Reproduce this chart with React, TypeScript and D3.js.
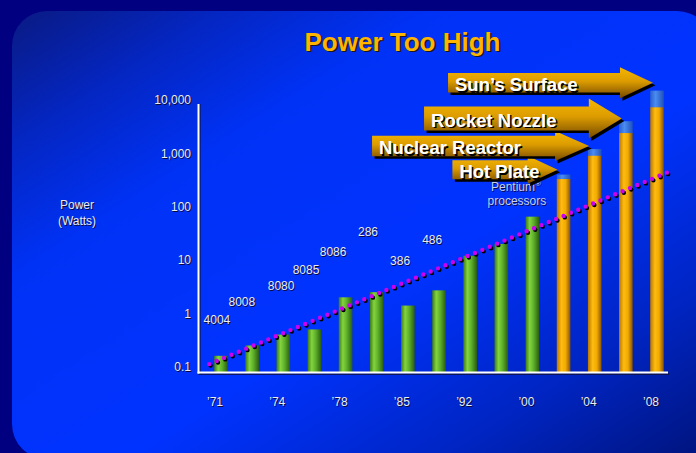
import React from "react";
import * as d3 from "d3";

const W = 696;
const H = 453;

// ---- data ----
const barSlots = ["71", "72", "74", "76", "78", "82", "85", "89", "92", "96", "00", "02", "04", "06", "08"];
const greenValues = [0.16, 0.25, 0.4, 0.5, 2, 2.5, 1.4, 2.7, 12, 20, 65];
const orangeValues = [330, 900, 2400, 7300];
const capValues = [400, 1200, 4000, 15000];

const xTickLabels = ["’71", "’74", "’78", "’85", "’92", "’00", "’04", "’08"];
const xTickSlots = ["71", "74", "78", "85", "92", "00", "04", "08"];

const yTickValues = [0.1, 1, 10, 100, 1000, 10000];
const yTickLabels = ["0.1", "1", "10", "100", "1,000", "10,000"];

const chipNames = ["4004", "8008", "8080", "8085", "8086", "286", "386", "486"];
const chipSlots = [-0.13, 0.67, 1.93, 2.73, 3.6, 4.72, 5.75, 6.78];
const chipLevels = [0.75, 1.63, 3.3, 6.5, 14.3, 34, 9.7, 23.7];

const pentiumSlot = 9.47;
const pentiumLevel = 237;

const trendSlots = [-0.376, 14.32];
const trendValues = [0.112, 435];

const arrowNames = ["Hot Plate", "Nuclear Reactor", "Rocket Nozzle", "Sun’s Surface"];
const arrowFrom = [7.43, 4.85, 6.52, 7.29];
const arrowTo = [10.81, 11.82, 12.87, 13.87];
const arrowLevels = [490, 1370, 4500, 21000];

// arrow shape styles (body height, head height, head length)
const arrowStyle = [
  { bodyH: 19, headH: 28, headL: 30 },
  { bodyH: 20.5, headH: 30, headL: 34 },
  { bodyH: 24, headH: 40, headL: 33 },
  { bodyH: 19.5, headH: 31, headL: 33 },
];

const FONT = "'Liberation Sans', Arial, Helvetica, sans-serif";

export default function App() {
  const y = d3.scaleLog().domain([0.1, 10000]).range([366.7, 100]);
  const x = d3
    .scaleBand<string>()
    .domain(barSlots)
    .range([205.43, 672.57])
    .paddingInner(0.563)
    .paddingOuter(0.2815);
  const bw = x.bandwidth();
  const cx = (s: string) => (x(s) as number) + bw / 2;
  const slot = d3.scaleLinear().domain([0, barSlots.length - 1]).range([cx(barSlots[0]), cx(barSlots[barSlots.length - 1])]);

  const baseY = 372.5;
  const axisX = 198.5;
  const axisTop = 104;
  const axisRight = 668;

  const trendLine = d3
    .line<number>()
    .x((_, i) => slot(trendSlots[i]))
    .y((d) => y(d));
  const trendD = trendLine(trendValues) || "";

  const arrowPath = (i: number) => {
    const s = arrowStyle[i];
    const x0 = slot(arrowFrom[i]);
    const tx = slot(arrowTo[i]);
    const ty = y(arrowLevels[i]);
    const hb = tx - s.headL;
    return `M${x0},${ty - s.bodyH / 2}L${hb},${ty - s.bodyH / 2}L${hb},${ty - s.headH / 2}L${tx},${ty}L${hb},${ty + s.headH / 2}L${hb},${ty + s.bodyH / 2}L${x0},${ty + s.bodyH / 2}Z`;
  };

  const shadowText = (
    key: string,
    tx: number,
    ty: number,
    text: React.ReactNode,
    opts: { size: number; anchor?: string; weight?: string; fill?: string; shadow?: string; off?: number }
  ) => (
    <g key={key} fontFamily={FONT} fontSize={opts.size} fontWeight={opts.weight || "normal"} textAnchor={opts.anchor || "middle"}>
      <text x={tx + (opts.off ?? 1)} y={ty + (opts.off ?? 1)} fill={opts.shadow || "#0a0a38"}>
        {text}
      </text>
      <text x={tx} y={ty} fill={opts.fill || "#ececf2"}>
        {text}
      </text>
    </g>
  );

  return (
    <svg
      width={W}
      height={H}
      viewBox={`0 0 ${W} ${H}`}
      style={{ position: "absolute", left: 0, top: 0, display: "block" }}
    >
      <defs>
        <linearGradient id="bg" x1="0" y1="0" x2="1" y2="1">
          <stop offset="0" stopColor="#0a1a82" />
          <stop offset="0.15" stopColor="#0426c2" />
          <stop offset="0.3" stopColor="#0032f6" />
          <stop offset="0.58" stopColor="#0033ff" />
          <stop offset="0.8" stopColor="#0025c4" />
          <stop offset="1" stopColor="#00137a" />
        </linearGradient>
        <linearGradient id="green" x1="0" y1="0" x2="1" y2="0">
          <stop offset="0" stopColor="#3a7a18" />
          <stop offset="0.3" stopColor="#84d43e" />
          <stop offset="0.6" stopColor="#5cae2a" />
          <stop offset="1" stopColor="#2a5c10" />
        </linearGradient>
        <linearGradient id="orange" x1="0" y1="0" x2="1" y2="0">
          <stop offset="0" stopColor="#b87600" />
          <stop offset="0.35" stopColor="#ffbc10" />
          <stop offset="0.65" stopColor="#f2aa00" />
          <stop offset="1" stopColor="#865200" />
        </linearGradient>
        <linearGradient id="cap" x1="0" y1="0" x2="1" y2="0">
          <stop offset="0" stopColor="#2a60cc" />
          <stop offset="0.4" stopColor="#4a8cf2" />
          <stop offset="1" stopColor="#2152b8" />
        </linearGradient>
        <linearGradient id="arrow" x1="0" y1="0" x2="0" y2="1">
          <stop offset="0" stopColor="#f6b600" />
          <stop offset="0.45" stopColor="#dc9c00" />
          <stop offset="1" stopColor="#744800" />
        </linearGradient>
      </defs>

      <rect x={0} y={0} width={W} height={H} fill="#000080" />
      <rect x={12} y={11} width={700} height={448} rx={35} ry={35} fill="url(#bg)" />

      {/* title */}
      {shadowText("title", 402.5, 50.5, "Power Too High", {
        size: 26,
        weight: "bold",
        fill: "#ffb400",
        shadow: "#1a1a1a",
        off: 1.6,
      })}

      {/* y axis title */}
      {shadowText("yt1", 77, 209.3, "Power", { size: 12 })}
      {shadowText("yt2", 77, 225, "(Watts)", { size: 12 })}

      {/* y tick labels */}
      {yTickValues.map((v, i) =>
        shadowText("yl" + i, 191, y(v) + 4.3, yTickLabels[i], { size: 12, anchor: "end" })
      )}

      {/* bars */}
      {barSlots.map((s, i) => {
        if (i < greenValues.length) {
          const top = y(greenValues[i]);
          return <rect key={s} x={x(s)} y={top} width={bw} height={baseY - top} fill="url(#green)" />;
        }
        const j = i - greenValues.length;
        const top = y(orangeValues[j]);
        const capTop = y(capValues[j]);
        return (
          <g key={s}>
            <rect x={x(s)} y={capTop} width={bw} height={top - capTop + 0.5} fill="url(#cap)" />
            <rect x={x(s)} y={top} width={bw} height={baseY - top} fill="url(#orange)" />
          </g>
        );
      })}

      {/* axes */}
      <line x1={axisX + 1.5} y1={axisTop} x2={axisX + 1.5} y2={baseY + 1.5} stroke="#101030" strokeWidth={1} />
      <line x1={axisX} y1={baseY + 1.6} x2={axisRight + 1} y2={baseY + 1.6} stroke="#101030" strokeWidth={1.2} />
      <line x1={axisX} y1={axisTop} x2={axisX} y2={baseY + 1} stroke="#ffffff" strokeWidth={2} />
      <line x1={axisX - 1} y1={baseY} x2={axisRight} y2={baseY} stroke="#ffffff" strokeWidth={2} />

      {/* x tick labels */}
      {xTickSlots.map((s, i) => shadowText("xl" + i, cx(s) - 6, 406.3, xTickLabels[i], { size: 12 }))}

      {/* chip labels */}
      {chipNames.map((n, i) => shadowText("c" + i, slot(chipSlots[i]), y(chipLevels[i]) + 4.3, n, { size: 12 }))}
      {shadowText(
        "pent",
        slot(pentiumSlot),
        y(pentiumLevel) + 4.3,
        <>
          Pentium
          <tspan fontSize={8} dy={-5}>
            ®
          </tspan>
        </>,
        { size: 12, fill: "#c9cfe6", shadow: "#0a0a50" }
      )}
      {shadowText("proc", slot(pentiumSlot) + 1, y(pentiumLevel) + 18.3, "processors", {
        size: 12,
        fill: "#c9cfe6",
        shadow: "#0a0a50",
      })}

      {/* trend dots */}
      <path
        d={trendD}
        transform="translate(1.3,1.5)"
        fill="none"
        stroke="#000000"
        strokeWidth={4.4}
        strokeLinecap="round"
        strokeDasharray="0 8"
      />
      <path d={trendD} fill="none" stroke="#cc00f0" strokeWidth={4.4} strokeLinecap="round" strokeDasharray="0 8" />

      {/* arrows */}
      {arrowNames.map((name, i) => {
        const d = arrowPath(i);
        const tx = slot(arrowFrom[i]) + 7;
        const ty = y(arrowLevels[i]) + 8.3;
        return (
          <g key={name}>
            <path d={d} transform="translate(2.5,2.5)" fill="#000000" />
            <path d={d} fill="url(#arrow)" />
            {shadowText("at" + i, tx, ty, name, {
              size: 18.5,
              weight: "bold",
              anchor: "start",
              fill: "#ffffff",
              shadow: "#000000",
              off: 1.5,
            })}
          </g>
        );
      })}
    </svg>
  );
}
